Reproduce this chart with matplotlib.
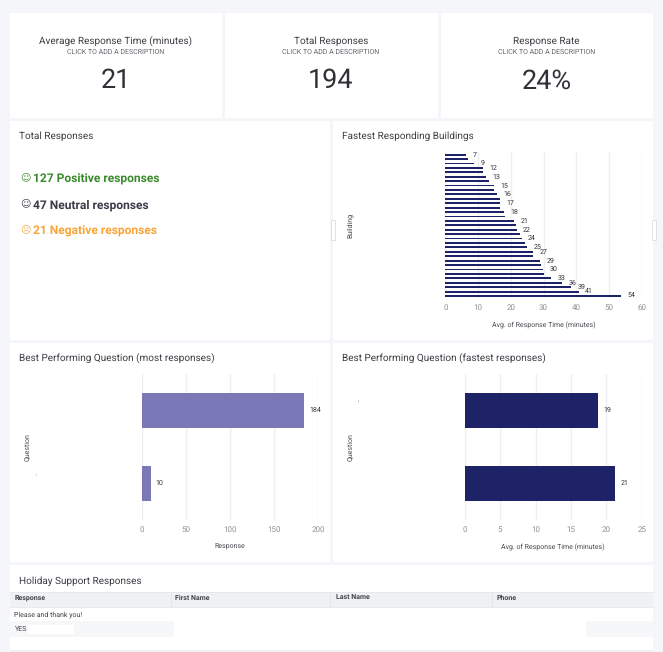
import matplotlib
matplotlib.use('Agg')
import matplotlib.pyplot as plt
from matplotlib.patches import Rectangle

# Configs
W, H = 663, 652
FONT = ['Roboto', 'DejaVu Sans']
plt.rcParams['font.family'] = FONT
plt.rcParams['text.hinting'] = 'no_hinting'
plt.rcParams['text.hinting_factor'] = 1

NAVY = '#1e2266'
PURPLE = '#7b78b8'
BG = '#f5f6f9'
GRID = '#eeeff3'
TEXT = '#3d3d45'

# Data
kpi_titles = ['Average Response Time (minutes)', 'Total Responses', 'Response Rate']
kpi_values = ['21', '194', '24%']
kpi_desc = 'CLICK TO ADD A DESCRIPTION'

sentiment_counts = [127, 47, 21]
sentiment_names = ['Positive', 'Neutral', 'Negative']
sentiment_icons = ['\u263a', '\u263a', '\u2639']
sentiment_colors = ['#3a8a2c', '#3a3a48', '#f9a437']

building_times = [6.4, 6.8, 8.8, 11.5, 11.5, 12.3, 13.5, 14.8, 14.8, 15.8, 16.7,
                  16.8, 16.8, 17.8, 18.3, 21.0, 21.5, 21.8, 22.8, 23.3, 24.2,
                  25.0, 26.8, 26.8, 29.0, 29.3, 29.8, 30.3, 32.4, 35.8, 38.4,
                  40.7, 53.8]
building_labels = ['7', '', '9', '12', '', '13', '', '15', '', '16', '', '17', '',
                   '18', '', '21', '', '22', '', '24', '', '25', '27', '', '29',
                   '', '30', '', '33', '36', '39', '41', '54']
building_ticks = [0, 10, 20, 30, 40, 50, 60]

most_values = [184, 10]
most_labels = ['184', '10']
most_ticks = [0, 50, 100, 150, 200]

fastest_values = [18.8, 21.2]
fastest_labels = ['19', '21']
fastest_ticks = [0, 5, 10, 15, 20, 25]

table_columns = ['Response', 'First Name', 'Last Name', 'Phone']
table_rows = ['Please and thank you!', 'YES']


def card(bg, x0, y0, x1, y1, color='white', **kw):
    bg.add_patch(Rectangle((x0, y0), x1 - x0, y1 - y0, facecolor=color, edgecolor='none', **kw))


def bar_panel(fig, box, values, labels, ticks, color, height, pad=6):
    x0, y0, x1, y1 = box
    ax = fig.add_axes([x0 / W, 1 - y1 / H, (x1 - x0) / W, (y1 - y0) / H])
    ax.patch.set_alpha(0)
    rows = list(range(len(values)))
    ax.barh(rows, values, height=height, color=color, zorder=3)
    ax.set_ylim(len(values) - 0.5, -0.5)
    ax.set_xlim(ticks[0], ticks[-1])
    ax.set_xticks(ticks)
    ax.set_yticks([])
    ax.grid(axis='x', color=GRID, linewidth=1, zorder=0)
    ax.tick_params(axis='x', length=0, labelsize=5.5, labelcolor='#8f8f96', pad=4)
    for s in ax.spines.values():
        s.set_visible(False)
    for i, v in enumerate(values):
        if labels[i]:
            ax.annotate(labels[i], xy=(v, i), xytext=(pad * 0.72, 0), textcoords='offset points',
                        ha='left', va='center', fontsize=5, color='#33333a', zorder=4)
    return ax


fig = plt.figure(figsize=(W / 100, H / 100), dpi=100, facecolor=BG)

# Pixel canvas for the cards and the dashboard text
bg = fig.add_axes([0, 0, 1, 1])
bg.set_xlim(0, W)
bg.set_ylim(H, 0)
bg.axis('off')

# KPI row
kpi_boxes = [(10, 222), (225, 438), (441, 653)]
kpi_centers = [116, 331, 546.5]
for (x0, x1), cx, title, value in zip(kpi_boxes, kpi_centers, kpi_titles, kpi_values):
    card(bg, x0, 13, x1, 118)
    bg.text(cx, 41, title, ha='center', va='center', fontsize=7.4, color=TEXT)
    bg.text(cx, 52.5, kpi_desc, ha='center', va='center', fontsize=5.3, color='#66666e')
    bg.text(cx, 81, value, ha='center', va='center', fontsize=19.5, color='#303036')

# Chart cards
card(bg, 10, 121, 330, 340)
card(bg, 333, 121, 653, 340)
card(bg, 10, 343, 330, 562)
card(bg, 333, 343, 653, 562)
card(bg, 10, 565, 653, 652)

# Titles
title_kw = dict(ha='left', va='center', fontsize=7.4, color=TEXT)
bg.text(19, 136.5, 'Total Responses', **title_kw)
bg.text(342, 136.5, 'Fastest Responding Buildings', **title_kw)
bg.text(19, 358, 'Best Performing Question (most responses)', **title_kw)
bg.text(342, 358, 'Best Performing Question (fastest responses)', **title_kw)
bg.text(19, 581, 'Holiday Support Responses', **title_kw)

# Sentiment lines
for y, n, name, icon, c in zip([178, 204, 230], sentiment_counts, sentiment_names,
                               sentiment_icons, sentiment_colors):
    bg.text(25.5, y, icon, ha='center', va='center', fontsize=7.5, color=c, family='DejaVu Sans')
    bg.text(32.7, y + 1, f'{n} {name} responses', ha='left', va='center', fontsize=8.7,
            fontweight='bold', color=c)

# Resize handles
for hx in [331, 652]:
    bg.add_patch(Rectangle((hx, 220), 3.5, 20, facecolor='white', edgecolor='#dcdde2', linewidth=0.6))

# Charts
bar_panel(fig, (445.3, 152.4, 641.7, 298.2), building_times, building_labels,
          building_ticks, NAVY, 0.42, pad=6.5)
bar_panel(fig, (141.7, 373.5, 318.3, 520), most_values, most_labels, most_ticks, PURPLE, 0.48, pad=5)
bar_panel(fig, (464.7, 373.5, 641.7, 520), fastest_values, fastest_labels, fastest_ticks, NAVY, 0.48)

# Axis titles
axis_kw = dict(ha='center', va='center', fontsize=5.4, color='#4c4c54')
bg.text(543.7, 325, 'Avg. of Response Time (minutes)', **axis_kw)
bg.text(230, 547, 'Response', **axis_kw)
bg.text(553, 547, 'Avg. of Response Time (minutes)', **axis_kw)
bg.text(350, 225, 'Building', rotation=90, **axis_kw)
bg.text(27, 447, 'Question', rotation=90, **axis_kw)
bg.text(350, 447, 'Question', rotation=90, **axis_kw)

# Leftovers of the hidden category labels
bg.text(36, 477, "'", ha='center', va='center', fontsize=4, color='#77777e')
bg.text(358.5, 403, "'", ha='center', va='center', fontsize=4, color='#33333a')

# Table
card(bg, 10, 592, 653, 607, color='#f0f1f5')
card(bg, 10, 621, 653, 637, color='#f6f7f9')
card(bg, 10, 650, 653, 652, color='#f0f1f5')
card(bg, 170.5, 607, 586, 621)
card(bg, 174, 621, 586, 650)
card(bg, 28, 625, 74, 634)
for x in [170.5, 330, 492]:
    bg.plot([x, x], [592, 607], color='#e2e3e8', linewidth=0.6)
for y in [592, 607]:
    bg.plot([10, 653], [y, y], color='#e6e7eb', linewidth=0.6)
for x, name in zip([14.5, 175, 336, 497], table_columns):
    bg.text(x, 598.5, name, ha='left', va='center', fontsize=5.1, fontweight='bold', color='#44444c')
for y, row in zip([614.7, 629], table_rows):
    bg.text(14.5, y, row, ha='left', va='center', fontsize=4.95, color='#44444c')

fig.savefig('out.png', dpi=100, facecolor=fig.get_facecolor())
